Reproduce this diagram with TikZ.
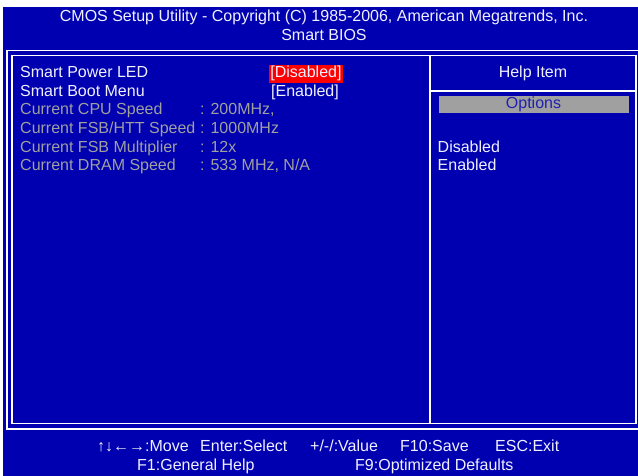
\documentclass[tikz,border=0pt]{standalone}
\usepackage{fontspec}
\setmainfont{Liberation Sans}
\definecolor{biosblue}{RGB}{0,0,176}
\definecolor{biosgray}{RGB}{160,160,160}
\definecolor{bioswhite}{RGB}{240,240,255}
\definecolor{optblue}{RGB}{32,32,176}
\begin{document}
\begin{tikzpicture}[x=1pt,y=-1pt,
  txt/.style={anchor=base west,inner sep=0pt,text=bioswhite,font=\fontsize{16}{18}\selectfont},
  ctxt/.style={anchor=base,inner sep=0pt,text=bioswhite,font=\fontsize{16}{18}\selectfont},
  gtxt/.style={txt,text=biosgray},
  frame/.style={draw=white,line width=1.6pt}]
\useasboundingbox (0,0) rectangle (638,476);
\fill[white] (0,0) rectangle (638,476);
\fill[biosblue] (3,7) rectangle (638,476);
% frames
\draw[frame] (7,50.5) -- (642,50.5) (7,50.5) -- (7,429) -- (642,429);
\draw[frame] (12,55.5) rectangle (636,423.5);
\draw[frame] (430,55.5) -- (430,423.5);
\draw[frame] (430,91) -- (636,91);
% title
\node[ctxt] (t1) at (324,22) {CMOS Setup Utility - Copyright (C) 1985-2006, American Megatrends, Inc.};
\node[ctxt] (t2) at (324,41) {Smart BIOS};
% items
\node[txt] (i1) at (20,78) {Smart Power LED};
\node[txt] (i2) at (20,96.5) {Smart Boot Menu};
\node[gtxt] (i3) at (20,115) {Current CPU Speed};
\node[gtxt] (i4) at (20,133.7) {Current FSB/HTT Speed};
\node[gtxt] (i5) at (20,152.3) {Current FSB Multiplier};
\node[gtxt] (i6) at (20,171) {Current DRAM Speed};
\node[txt,fill=red,inner xsep=1.2pt,inner ysep=1.3pt] (v1) at (269,78) {[Disabled]};
\node[txt] (v2) at (271,96.5) {[Enabled]};
\node[gtxt] (v3) at (200,115) {: 200MHz,};
\node[gtxt] (v4) at (200,133.7) {: 1000MHz};
\node[gtxt] (v5) at (200,152.3) {: 12x};
\node[gtxt] (v6) at (200,171) {: 533 MHz, N/A};
% help
\node[ctxt] (h1) at (533,78) {Help Item};
\fill[biosgray] (439,96) rectangle (629,113);
\node[ctxt,text=optblue] (h2) at (533.5,109) {Options};
\node[txt] (h3) at (437.5,153) {Disabled};
\node[txt] (h4) at (437.5,171) {Enabled};
% bottom
\node[txt] (b1) at (97,451) {↑↓←→:Move};
\node[txt] (b2) at (200,451) {Enter:Select};
\node[txt] (b3) at (310,451) {+/-/:Value};
\node[txt] (b4) at (400,451) {F10:Save};
\node[txt] (b5) at (495,451) {ESC:Exit};
\node[txt] (b6) at (137,470) {F1:General Help};
\node[txt] (b7) at (355,470) {F9:Optimized Defaults};
\end{tikzpicture}
\end{document}
